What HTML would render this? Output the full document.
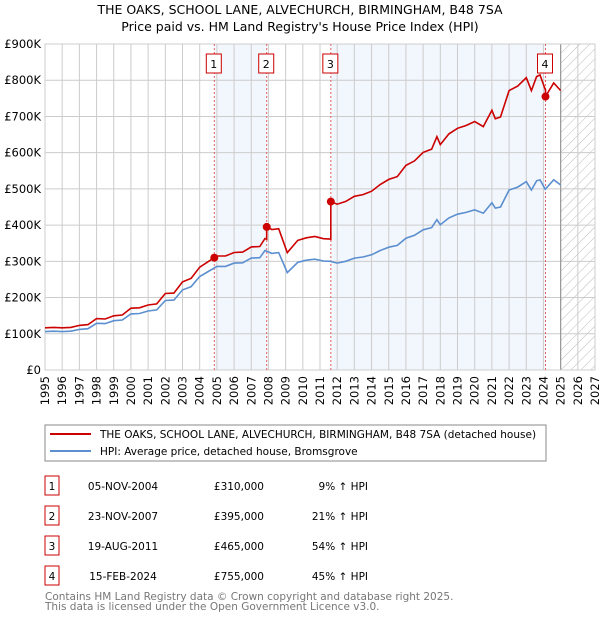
<!DOCTYPE html>
<html><head><meta charset="utf-8"><style>
body{margin:0;background:#fff;}
svg{font-family:"DejaVu Sans","Liberation Sans",sans-serif;}
</style></head><body>
<svg id="c" width="600" height="620" xmlns="http://www.w3.org/2000/svg">
<defs><pattern id="hatch" width="7" height="7" patternUnits="userSpaceOnUse" patternTransform="rotate(45)"><line x1="0" y1="0" x2="0" y2="7" stroke="#bbb" stroke-width="1"/></pattern></defs>
<text x="300" y="14" text-anchor="middle" font-size="12.5" fill="#000">THE OAKS, SCHOOL LANE, ALVECHURCH, BIRMINGHAM, B48 7SA</text>
<text x="300" y="31" text-anchor="middle" font-size="12.5" fill="#000">Price paid vs. HM Land Registry's House Price Index (HPI)</text>
<g id="plot"></g>
<rect x="45" y="425" width="501" height="36" fill="#fff" stroke="#888"/>
<line x1="50" y1="434" x2="91" y2="434" stroke="#cc0000" stroke-width="2"/>
<text x="100" y="438" font-size="10.5">THE OAKS, SCHOOL LANE, ALVECHURCH, BIRMINGHAM, B48 7SA (detached house)</text>
<line x1="50" y1="451" x2="91" y2="451" stroke="#5b8fd0" stroke-width="2"/>
<text x="100" y="455" font-size="10.5">HPI: Average price, detached house, Bromsgrove</text>
<g id="table" font-size="10.5"></g>
<text x="45" y="600" font-size="10.5" fill="#777">Contains HM Land Registry data © Crown copyright and database right 2025.</text>
<text x="45" y="610" font-size="10.5" fill="#777">This data is licensed under the Open Government Licence v3.0.</text>
</svg>
<script>
const hpiYears=[1995,1995.5,1996,1996.5,1997,1997.5,1998,1998.5,1999,1999.5,2000,2000.5,2001,2001.5,2002,2002.5,2003,2003.5,2004,2004.5,2005,2005.5,2006,2006.5,2007,2007.5,2007.8,2008.2,2008.6,2009.1,2009.7,2010.2,2010.7,2011.2,2011.6,2012,2012.5,2013,2013.5,2014,2014.5,2015,2015.5,2016,2016.5,2017,2017.5,2017.8,2018,2018.5,2019,2019.5,2020,2020.5,2021,2021.2,2021.5,2022,2022.5,2023,2023.3,2023.6,2023.8,2024.1,2024.6,2025];
const hpiValues=[106,107,106,107,112,114,129,128,136,138,155,156,163,166,192,193,221,230,258,272,286,286,295,296,309,310,330,322,324,269,297,303,306,301,300,295,300,309,312,318,330,339,344,364,372,387,393,415,401,420,430,435,442,433,462,447,450,497,505,520,497,522,525,499,525,511];
const saleYears=[2004.85,2007.9,2011.63,2024.12];
const salePrices=[310,395,465,755];
const saleDates=["05-NOV-2004","23-NOV-2007","19-AUG-2011","15-FEB-2024"];
const saleLabels=["£310,000","£395,000","£465,000","£755,000"];
const salePct=["9% ↑ HPI","21% ↑ HPI","54% ↑ HPI","45% ↑ HPI"];
const yTicks=[0,100,200,300,400,500,600,700,800,900];
const yTickLabels=["£0","£100K","£200K","£300K","£400K","£500K","£600K","£700K","£800K","£900K"];
const xTicks=[1995,1996,1997,1998,1999,2000,2001,2002,2003,2004,2005,2006,2007,2008,2009,2010,2011,2012,2013,2014,2015,2016,2017,2018,2019,2020,2021,2022,2023,2024,2025,2026,2027];

const X0=45,X1=595,Y0=370,Y1=44;
const xs=y=>X0+(y-1995)/(2027-1995)*(X1-X0);
const ys=v=>Y0-v/900*(Y0-Y1);
const NS="http://www.w3.org/2000/svg";
const plot=document.getElementById('plot');
function mk(tag,attrs,parent){const e=document.createElementNS(NS,tag);for(const k in attrs)e.setAttribute(k,attrs[k]);(parent||plot).appendChild(e);return e;}
function hpiAt(t){for(let i=0;i<hpiYears.length-1;i++){if(t<=hpiYears[i+1]){const f=(t-hpiYears[i])/(hpiYears[i+1]-hpiYears[i]);return hpiValues[i]+f*(hpiValues[i+1]-hpiValues[i]);}}return hpiValues[hpiValues.length-1];}

mk('rect',{x:X0,y:Y1,width:X1-X0,height:Y0-Y1,fill:'#fff'});
for(const [a,b] of [[0,1],[2,3]]){
  const r=mk('rect',{x:xs(saleYears[a]),y:Y1,width:xs(saleYears[b])-xs(saleYears[a]),height:Y0-Y1,fill:'#eef3fc',opacity:0.75});
  
  
}
const h=mk('rect',{x:xs(2025),y:Y1,width:X1-xs(2025),height:Y0-Y1,fill:'url(#hatch)'});


yTicks.forEach((v,i)=>{
  mk('line',{x1:X0,x2:X1,y1:ys(v),y2:ys(v),stroke:'#ccc','stroke-width':1});
  const t=mk('text',{x:X0-4,y:ys(v)+4,'text-anchor':'end','font-size':11.5});
  t.textContent=yTickLabels[i];
  
  
});
xTicks.forEach(y=>{
  mk('line',{x1:xs(y),x2:xs(y),y1:Y1,y2:Y0,stroke:'#ccc','stroke-width':1});
  const t=mk('text',{x:0,y:0,'font-size':11.5,'text-anchor':'end',transform:`translate(${xs(y)+4},${Y0+6}) rotate(-90)`});
  t.textContent=y;
  
  
});
mk('line',{x1:xs(2025),x2:xs(2025),y1:Y1,y2:Y0,stroke:'#999','stroke-width':1.2});
mk('rect',{x:X0,y:Y1,width:X1-X0,height:Y0-Y1,fill:'none',stroke:'#ccc'});
saleYears.forEach((s,i)=>{
  const l=mk('line',{x1:xs(s),x2:xs(s),y1:Y1,y2:Y0,stroke:'#e06060','stroke-width':1,'stroke-dasharray':'2,2'});
  
  
  const r=mk('rect',{x:xs(s)-8,y:54,width:15,height:19,fill:'#fff',stroke:'#cc0000'});
  
  
  const t=mk('text',{x:xs(s)-0.5,y:68,'text-anchor':'middle','font-size':11});
  t.textContent=i+1;
});
let d='';hpiYears.forEach((y,i)=>{d+=(i?'L':'M')+xs(y).toFixed(1)+','+ys(hpiValues[i]).toFixed(1);});
const hl=mk('path',{d,fill:'none',stroke:'#5b8fd0','stroke-width':1.6});


function seg(t){let k=0;for(let i=0;i<saleYears.length;i++)if(t>=saleYears[i])k=i;return k;}
let pts=[];
const times=[...hpiYears,...saleYears].sort((a,b)=>a-b);
times.forEach(t=>{const k=seg(t);pts.push([t,salePrices[k]*hpiAt(t)/hpiAt(saleYears[k])]);
  const idx=saleYears.indexOf(t);
  if(idx>0){const pk=idx-1;pts.splice(pts.length-1,0,[t,salePrices[pk]*hpiAt(t)/hpiAt(saleYears[pk])]);}});
let d2='';pts.forEach((p,i)=>{d2+=(i?'L':'M')+xs(p[0]).toFixed(1)+','+ys(p[1]).toFixed(1);});
const rl=mk('path',{d:d2,fill:'none',stroke:'#cc0000','stroke-width':1.6});


saleYears.forEach((s,i)=>{
  const c=mk('circle',{cx:xs(s),cy:ys(salePrices[i]),r:4,fill:'#cc0000'});
  
  
});
const tb=document.getElementById('table');
saleDates.forEach((dt,i)=>{
  const cy=486+i*30;
  const r=mk('rect',{x:45,y:cy-10,width:14,height:19,fill:'#fff',stroke:'#cc0000'},tb);
  
  
  const n=mk('text',{x:52,y:cy+4,'text-anchor':'middle'},tb);n.textContent=i+1;
  const a=mk('text',{x:123,y:cy+4,'text-anchor':'middle'},tb);a.textContent=dt;
  
  
  const b=mk('text',{x:264,y:cy+4,'text-anchor':'end'},tb);b.textContent=saleLabels[i];
  
  
  const c=mk('text',{x:368,y:cy+4,'text-anchor':'end'},tb);c.textContent=salePct[i];
  
  
});
</script>
</body></html>
